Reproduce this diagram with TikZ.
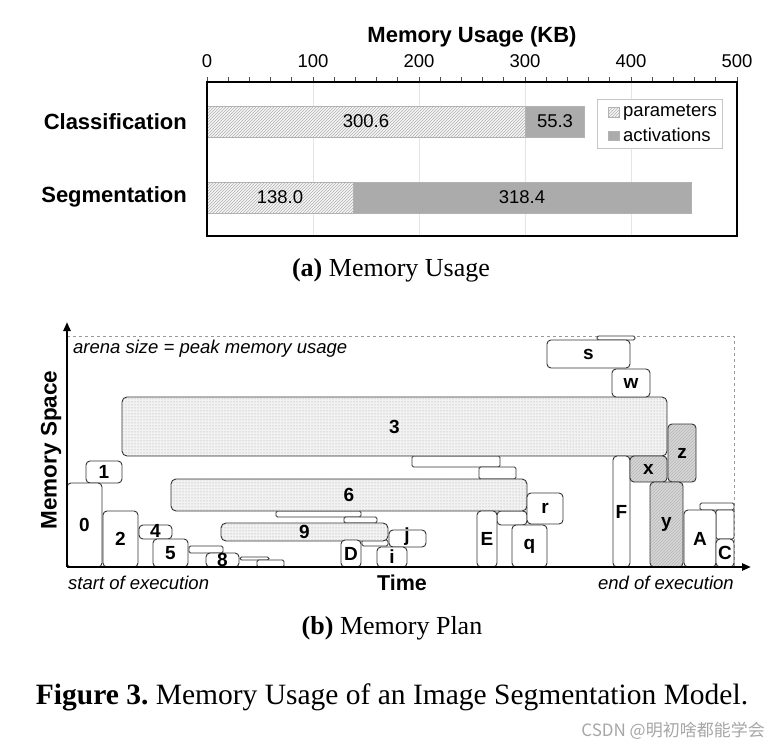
\documentclass[tikz,border=0pt]{standalone}
\usepackage{fontspec}
\setmainfont{Liberation Serif}
\setsansfont{Liberation Sans}
\newfontfamily\cjkfont{Noto Sans CJK SC}
\usetikzlibrary{patterns,arrows.meta,calc}
\frenchspacing
\newcommand\mblk[7][]{%
  \path[#1] (#3,#4) rectangle (#5,#6);
  \node[lbl] (#2) at ($(#3,#4)!0.5!(#5,#6)$) {#7};}
\begin{document}
\begin{tikzpicture}[x=1pt,y=-1pt,
  sf/.style={font=\sffamily\fontsize{18.5}{20}\selectfont},
  cat/.style={font=\sffamily\bfseries\fontsize{22}{24}\selectfont, anchor=east, inner sep=0pt},
  lbl/.style={font=\sffamily\bfseries\fontsize{19}{20}\selectfont, inner sep=0pt},
  it/.style={font=\sffamily\itshape\fontsize{18.5}{20}\selectfont},
  captxt/.style={font=\fontsize{26}{30}\selectfont},
  par/.style={draw=gray!60, line width=0.6pt, preaction={fill=gray!8}, pattern=north east lines, pattern color=gray!60},
  act/.style={draw=gray!60, line width=0.6pt, fill=black!33},
  blk/.style={draw=black!80, line width=0.9pt, rounded corners=4pt, fill=white},
  thin/.style={draw=black!80, line width=0.9pt, rounded corners=1.5pt, fill=white},
  dotblk/.style={draw=black!80, line width=0.9pt, rounded corners=5pt, preaction={fill=gray!10}, pattern=dots, pattern color=gray!75},
  hatblk/.style={draw=black!80, line width=0.9pt, rounded corners=4pt, preaction={fill=black!16}, pattern=north east lines, pattern color=black!28}
]
\useasboundingbox (0,0) rectangle (780,750);

% ---------- (a) chart ----------
\node[font=\sffamily\bfseries\fontsize{22}{24}\selectfont] (ttl) at (472,36.5) {Memory Usage (KB)};
\foreach \v in {0,100,...,500} \node[sf] (t\v) at ({207+1.06*\v},61) {\v};
\foreach \v in {100,200,300,400} \draw[gray!20, line width=1pt] ({207+1.06*\v},82) -- ({207+1.06*\v},236);
\foreach \v in {0,20,...,500} \draw[black!70, line width=0.7pt] ({207+1.06*\v},77) -- ({207+1.06*\v},82);

\path[par] (207,106) rectangle (525.6,137);
\path[act] (525.6,106) rectangle (584.3,137);
\path[par] (207,182) rectangle (353.3,213);
\path[act] (353.3,182) rectangle (690.8,213);
\node[sf] (cp) at (366,121.5) {300.6};
\node[sf] (ca) at (555,121.5) {55.3};
\node[sf] (sp) at (280,197.5) {138.0};
\node[sf] (sa) at (522,197.5) {318.4};

\node[draw=gray!45, fill=white, minimum width=125pt, minimum height=49pt, inner sep=0pt] (leg) at (659.5,123.5) {};
\path[par] (608,107) rectangle (619,117);
\path[act] (608,131) rectangle (619,140);
\node[sf, anchor=west, inner sep=0pt] (lp) at (623,112) {parameters};
\node[sf, anchor=west, inner sep=0pt] (la) at (623,135) {activations};

\draw[line width=2.5pt] (207,82) rectangle (737,236);

\node[cat] (cls) at (187,122) {Classification};
\node[cat] (seg) at (187,197) {Segmentation};

\node[captxt] (capa) at (391,270) {\textbf{(a)} Memory Usage};

% ---------- (b) memory plan ----------
\draw[gray!80, dashed, line width=0.8pt] (67,336) -- (734,336) -- (734,567);
\node[it, anchor=west, inner sep=0pt] (arena) at (73,349) {arena size = peak memory usage};

% thin bars
\path[thin] (597,336) rectangle (635,340);
\path[thin] (412,456) rectangle (500,467);
\path[thin] (479,467) rectangle (516,479);
\path[thin] (276,511) rectangle (361,517);
\path[thin] (344,517) rectangle (377,523);
\path[thin] (362,540) rectangle (388,546);
\path[thin] (189,546) rectangle (223,553);
\path[thin] (240,557) rectangle (269,560);
\path[thin] (257,560) rectangle (284,567);
\path[thin] (700,503) rectangle (734,510);
\path[thin] (716,510) rectangle (734,539);
\path[blk] (497,511) rectangle (527,525);

% patterned big blocks
\mblk[dotblk]{b3}{122}{397}{667}{456}{3}
\mblk[dotblk]{b6}{171}{479}{527}{511}{6}
\mblk[dotblk]{b9}{221}{523}{388}{541}{9}

% white blocks
\mblk[blk]{bs}{547}{340}{630}{368}{s}
\mblk[blk]{bw}{612}{369}{650}{397}{w}
\mblk[blk]{b1}{86}{461}{122}{483}{1}
\mblk[blk]{b0}{67}{483}{102}{567}{0}
\mblk[blk]{b2}{103}{511}{138}{567}{2}
\path[blk] (139,525) rectangle (172,539);
\node[lbl] (b4) at (155.5,531) {4};
\mblk[blk]{b5}{153}{539}{188}{567}{5}
\path[blk] (206,553) rectangle (239,567);
\node[lbl] (b8) at (222.5,560) {8};
\path[blk] (389,530) rectangle (426,547);
\node[lbl] (bj) at (407,537) {j};
\mblk[blk]{bD}{341}{540}{361}{567}{D}
\mblk[blk]{bi}{377}{547}{407}{567}{i}
\mblk[blk]{bE}{477}{511}{497}{567}{E}
\mblk[blk]{br}{527}{493}{563}{524}{r}
\mblk[blk]{bq}{512}{525}{547}{567}{q}
\mblk[blk]{bF}{613}{456}{630}{567}{F}
\mblk[blk]{bA}{684}{510}{716}{567}{A}
\mblk[blk]{bC}{716}{539}{734}{567}{C}

% hatched gray blocks
\mblk[hatblk]{bz}{668}{424}{696}{482}{z}
\mblk[hatblk]{bx}{630}{456}{667}{482}{x}
\mblk[hatblk]{by}{650}{482}{683}{567}{y}

% axes
\coordinate (org) at (67,567);
\coordinate (ytip) at (67,322);
\coordinate (xtip) at (751,567);
\draw[line width=2.5pt, -{Triangle[length=9pt,width=7pt]}] (org) -- (ytip);
\draw[line width=2.5pt, -{Triangle[length=9pt,width=7pt]}] (org) -- (xtip);

\node[font=\sffamily\bfseries\fontsize{22.5}{24}\selectfont, rotate=90] (ms) at (51,450) {Memory Space};
\node[font=\sffamily\bfseries\fontsize{21.5}{24}\selectfont] (time) at (402,583) {Time};
\node[anchor=west, inner sep=0pt, font=\sffamily\itshape\fontsize{18.5}{20}\selectfont] (st) at (68,583) {start of execution};
\node[anchor=east, inner sep=0pt, font=\sffamily\itshape\fontsize{18.5}{20}\selectfont] (en) at (734,583) {end of execution};

\node[captxt] (capb) at (392,628) {\textbf{(b)} Memory Plan};
\node[font=\fontsize{29.5}{32}\selectfont] (fig) at (392,697) {\textbf{Figure 3.} Memory Usage of an Image Segmentation Model.};
\node[font=\cjkfont\fontsize{17}{18}\selectfont, text=gray!70, anchor=east, inner sep=0pt] (wm) at (765,731) {CSDN @明初啥都能学会};
\end{tikzpicture}
\end{document}
